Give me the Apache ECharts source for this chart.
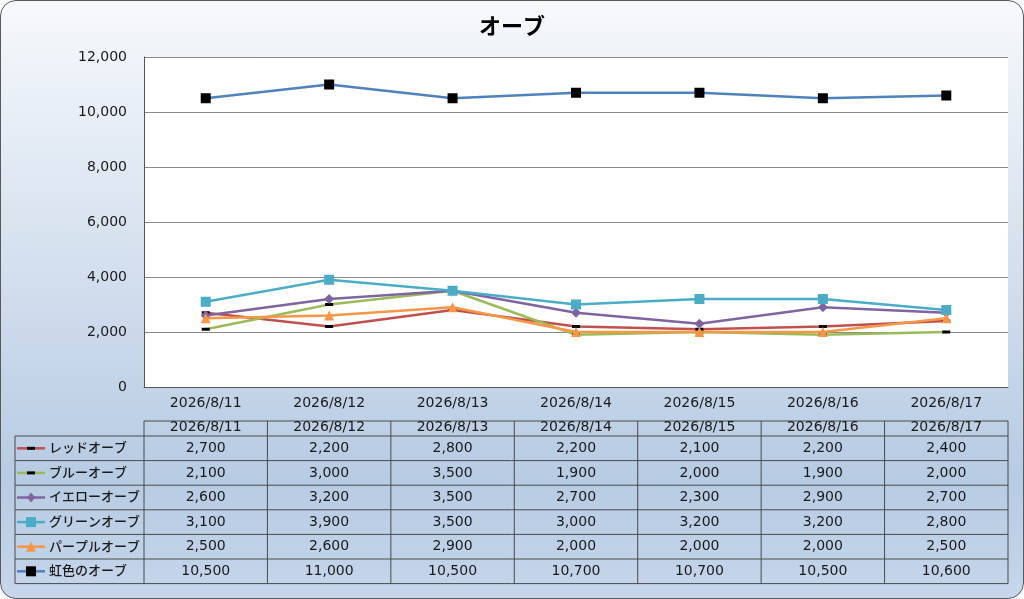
<!DOCTYPE html>
<html>
<head>
<meta charset="utf-8">
<script src="https://cdn.jsdelivr.net/npm/echarts@6/dist/echarts.min.js"></script>
<style>
html,body{margin:0;padding:0;background:#fff;}
#bg{position:absolute;left:0;top:0;width:1024px;height:599px;box-sizing:border-box;border:1.5px solid #5a5a5a;border-radius:16px;
background:linear-gradient(to bottom,#f6f9fc 0%,#dbe5f1 35%,#b7cbe3 80%,#c6d6eb 100%);}
#chart{position:absolute;left:0;top:0;width:1024px;height:599px;}
</style>
</head>
<body>
<div id="bg"></div>
<div id="chart"></div>
<script>
const categories = ['2026/8/11','2026/8/12','2026/8/13','2026/8/14','2026/8/15','2026/8/16','2026/8/17'];
const seriesNames = ['レッドオーブ','ブルーオーブ','イエローオーブ','グリーンオーブ','パープルオーブ','虹色のオーブ'];
const redOrb    = [2700, 2200, 2800, 2200, 2100, 2200, 2400];
const blueOrb   = [2100, 3000, 3500, 1900, 2000, 1900, 2000];
const yellowOrb = [2600, 3200, 3500, 2700, 2300, 2900, 2700];
const greenOrb  = [3100, 3900, 3500, 3000, 3200, 3200, 2800];
const purpleOrb = [2500, 2600, 2900, 2000, 2000, 2000, 2500];
const rainbowOrb= [10500, 11000, 10500, 10700, 10700, 10500, 10600];
const yTicks = [0, 2000, 4000, 6000, 8000, 10000, 12000];

const allData = [redOrb, blueOrb, yellowOrb, greenOrb, purpleOrb, rainbowOrb];
const lineColors = ['#C0504D','#9BBB59','#8064A2','#4BACC6','#F79646','#4F81BD'];
const markerColors = ['#000','#000','#8064A2','#4BACC6','#F79646','#000'];
const markerShapes = ['rect','rect','diamond','rect','triangle','rect'];
const markerSizes = [[8,3],[8,3],10,10,10,10];

const FONT = "'Noto Sans CJK JP', 'Noto Sans', sans-serif";
const NUMFONT = "'DejaVu Sans', sans-serif";
const fmt = v => v.toLocaleString('en-US');

// layout of the data table
const gridL = 144, gridR = 1008, gridT = 57, gridB = 387;
const colW = (gridR - gridL) / categories.length;
const tblLeft = 15, hdrTop = 421, rowTop = 436, rowH = 24.6;
const lineStyle = {stroke:'#4a4a4a', lineWidth:1};

const gEls = [];
const nRows = seriesNames.length;
const tblBottom = rowTop + nRows*rowH;
gEls.push({type:'line', z:50, shape:{x1:gridL,y1:hdrTop,x2:gridR,y2:hdrTop}, style:lineStyle});
for (let r=0;r<=nRows;r++){
  const y = rowTop + r*rowH;
  gEls.push({type:'line', z:50, shape:{x1:tblLeft,y1:y,x2:gridR,y2:y}, style:lineStyle});
}
gEls.push({type:'line', z:50, shape:{x1:tblLeft,y1:rowTop,x2:tblLeft,y2:tblBottom}, style:lineStyle});
for (let c=0;c<=categories.length;c++){
  const x = gridL + c*colW;
  gEls.push({type:'line', z:50, shape:{x1:x,y1:hdrTop,x2:x,y2:tblBottom}, style:lineStyle});
}
categories.forEach((cat,c)=>{
  gEls.push({type:'text', z:50, x:gridL + (c+0.5)*colW, y:(hdrTop+rowTop)/2 - 1,
    style:{text:cat, fill:'#1a1a1a', font:'14px '+NUMFONT, textAlign:'center', textVerticalAlign:'middle'}});
});
allData.forEach((arr,r)=>{
  arr.forEach((v,c)=>{
    gEls.push({type:'text', z:50, x:gridL + (c+0.5)*colW, y:rowTop + (r+0.5)*rowH,
      style:{text:fmt(v), fill:'#1a1a1a', font:'14px '+NUMFONT, textAlign:'center', textVerticalAlign:'middle'}});
  });
});
// legend keys inside the table (line + marker like the series, then the name)
const swX1 = 17, swX2 = 45, swC = (swX1+swX2)/2;
seriesNames.forEach((n,i)=>{
  const cy = rowTop + (i+0.5)*rowH;
  gEls.push({type:'line', z:60, shape:{x1:swX1,y1:cy,x2:swX2,y2:cy}, style:{stroke:lineColors[i], lineWidth:2.5}});
  const shp = markerShapes[i], sz = markerSizes[i];
  if (shp==='rect'){
    const w = Array.isArray(sz)?sz[0]:sz, h = Array.isArray(sz)?sz[1]:sz;
    gEls.push({type:'rect', z:61, shape:{x:swC-w/2,y:cy-h/2,width:w,height:h}, style:{fill:markerColors[i]}});
  } else if (shp==='diamond'){
    gEls.push({type:'polygon', z:61, shape:{points:[[swC,cy-sz/2],[swC+sz/2*0.8,cy],[swC,cy+sz/2],[swC-sz/2*0.8,cy]]}, style:{fill:markerColors[i]}});
  } else if (shp==='triangle'){
    gEls.push({type:'polygon', z:61, shape:{points:[[swC,cy-sz/2],[swC+sz/2,cy+sz/2],[swC-sz/2,cy+sz/2]]}, style:{fill:markerColors[i]}});
  }
  gEls.push({type:'text', z:60, x:49, y:cy - 1,
    style:{text:n, fill:'#1a1a1a', font:'500 13px '+FONT, textAlign:'left', textVerticalAlign:'middle'}});
});

const chart = echarts.init(document.getElementById('chart'));
chart.setOption({
  backgroundColor:'transparent',
  animation:false,
  title:{text:'オーブ', left:'center', top:10, textStyle:{fontFamily:FONT, fontSize:22, fontWeight:'bold', color:'#000'}},
  legend:{show:false, data: seriesNames},
  grid:{left:gridL, right:1024-gridR, top:gridT, bottom:599-gridB, show:true, backgroundColor:'#fff', borderWidth:0, containLabel:false},
  xAxis:{type:'category', data:categories, boundaryGap:true,
    axisLine:{lineStyle:{color:'#555', width:1}}, axisTick:{show:false},
    axisLabel:{margin:9, fontFamily:NUMFONT, fontSize:14, color:'#1a1a1a'}},
  yAxis:{type:'value', min:yTicks[0], max:yTicks[yTicks.length-1], interval:yTicks[1]-yTicks[0],
    axisLine:{show:true, lineStyle:{color:'#555', width:1}}, axisTick:{show:false},
    splitLine:{lineStyle:{color:'#888', width:1}},
    axisLabel:{margin:17, fontFamily:NUMFONT, fontSize:14, color:'#1a1a1a', formatter:v=>fmt(v)}},
  series: seriesNames.map((name,i)=>({
    name, type:'line', data: allData[i],
    symbol: markerShapes[i], symbolSize: markerSizes[i], showAllSymbol:true,
    lineStyle:{color:lineColors[i], width:2.5},
    itemStyle:{color:markerColors[i], borderWidth:0},
    color: lineColors[i],
    z: 2 + i
  })),
  graphic: gEls
});
</script>
</body>
</html>
